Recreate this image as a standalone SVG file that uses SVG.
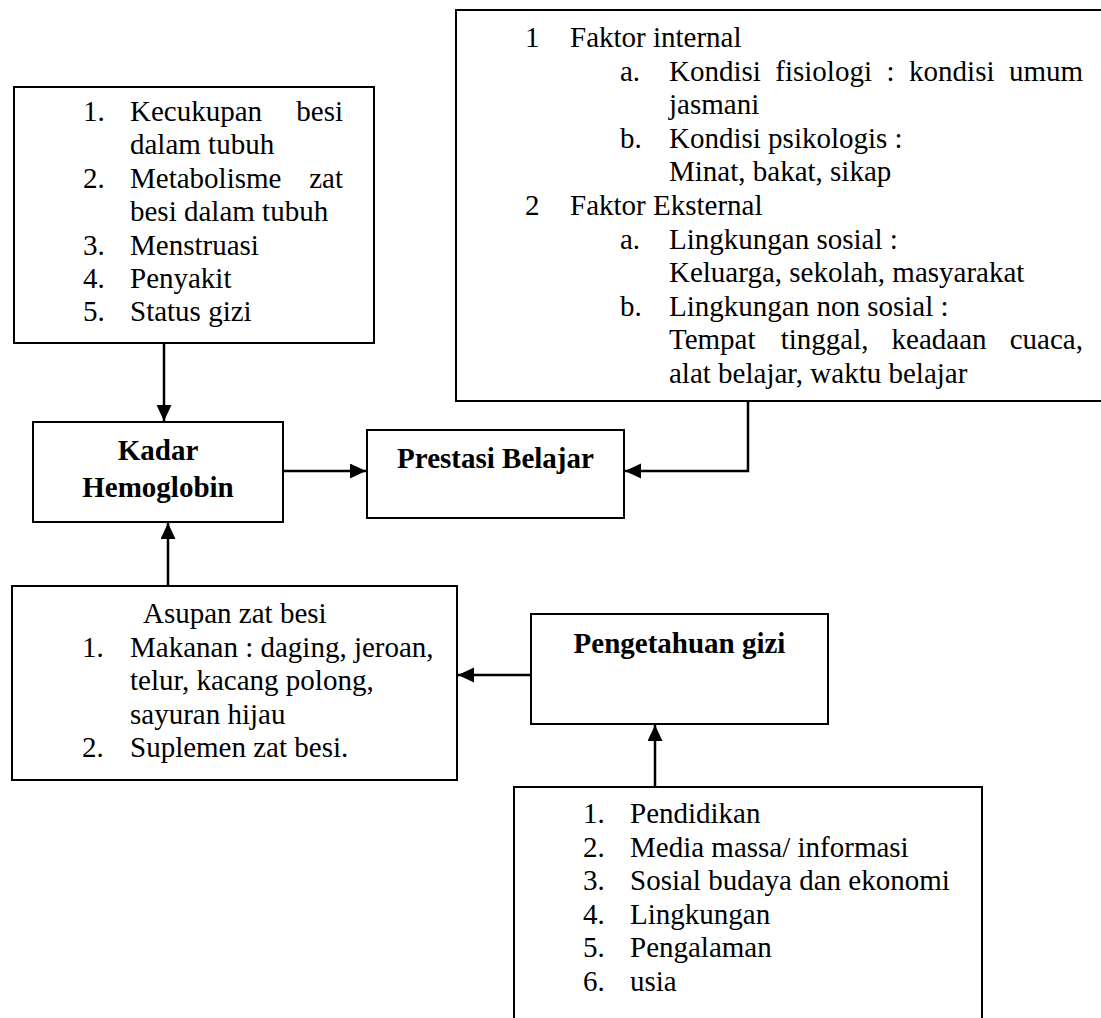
<svg xmlns="http://www.w3.org/2000/svg" width="1101" height="1018" viewBox="0 0 1101 1018">
<style>
.box{fill:#fff;stroke:#000;stroke-width:2}
.t{font-family:"Liberation Serif","Times New Roman",serif;font-size:29px;fill:#000}
.b{font-family:"Liberation Serif","Times New Roman",serif;font-size:29px;font-weight:bold;fill:#000}
.c{fill:none;stroke:#000;stroke-width:2.5}
</style>
<defs>
<marker id="ah" markerUnits="userSpaceOnUse" markerWidth="18" markerHeight="16" refX="16" refY="7.5" orient="auto">
<path d="M0,0 L16,7.5 L0,15 Z" fill="#000"/>
</marker>
</defs>
<rect width="1101" height="1018" fill="#fff"/>

<g id="node-faktor-hb">
<rect class="box" x="14" y="87" width="360" height="256"/>
<text class="t" x="83" y="121">1.</text>
<text class="t" x="130" y="121">Kecukupan</text>
<text class="t" x="343" y="121" text-anchor="end">besi</text>
<text class="t" x="130" y="154.4">dalam tubuh</text>
<text class="t" x="83" y="187.8">2.</text>
<text class="t" x="130" y="187.8">Metabolisme</text>
<text class="t" x="343" y="187.8" text-anchor="end">zat</text>
<text class="t" x="130" y="221.2">besi dalam tubuh</text>
<text class="t" x="83" y="254.6">3.</text>
<text class="t" x="130" y="254.6">Menstruasi</text>
<text class="t" x="83" y="288">4.</text>
<text class="t" x="130" y="288">Penyakit</text>
<text class="t" x="83" y="321.4">5.</text>
<text class="t" x="130" y="321.4">Status gizi</text>
</g>

<g id="node-faktor-prestasi">
<rect class="box" x="456" y="10" width="660" height="391"/>
<text class="t" x="525" y="47">1</text>
<text class="t" x="570" y="47">Faktor internal</text>
<text class="t" x="620" y="80.6">a.</text>
<text class="t" x="669" y="80.6">Kondisi</text>
<text class="t" x="775.3" y="80.6">fisiologi</text>
<text class="t" x="886.5" y="80.6">:</text>
<text class="t" x="909.1" y="80.6">kondisi</text>
<text class="t" x="1083" y="80.6" text-anchor="end">umum</text>
<text class="t" x="669" y="114.2">jasmani</text>
<text class="t" x="620" y="147.8">b.</text>
<text class="t" x="669" y="147.8">Kondisi psikologis :</text>
<text class="t" x="669" y="181.4">Minat, bakat, sikap</text>
<text class="t" x="525" y="215">2</text>
<text class="t" x="570" y="215">Faktor Eksternal</text>
<text class="t" x="620" y="248.6">a.</text>
<text class="t" x="669" y="248.6">Lingkungan sosial :</text>
<text class="t" x="669" y="282.2">Keluarga, sekolah, masyarakat</text>
<text class="t" x="620" y="315.8">b.</text>
<text class="t" x="669" y="315.8">Lingkungan non sosial :</text>
<text class="t" x="669" y="349.4">Tempat</text>
<text class="t" x="780.7" y="349.4">tinggal,</text>
<text class="t" x="891.6" y="349.4">keadaan</text>
<text class="t" x="1083" y="349.4" text-anchor="end">cuaca,</text>
<text class="t" x="669" y="383">alat belajar, waktu belajar</text>
</g>

<g id="node-kadar">
<rect class="box" x="33" y="422" width="250" height="100"/>
<text class="b" x="158" y="460" text-anchor="middle">Kadar</text>
<text class="b" x="158" y="497" text-anchor="middle">Hemoglobin</text>
</g>

<g id="node-prestasi">
<rect class="box" x="367" y="430" width="257" height="88"/>
<text class="b" x="495.5" y="468" text-anchor="middle">Prestasi Belajar</text>
</g>

<g id="node-asupan">
<rect class="box" x="12" y="586" width="445" height="194"/>
<text class="t" x="143" y="623">Asupan zat besi</text>
<text class="t" x="82" y="656.5">1.</text>
<text class="t" x="130" y="656.5">Makanan : daging, jeroan,</text>
<text class="t" x="130" y="690">telur, kacang polong,</text>
<text class="t" x="130" y="723.5">sayuran hijau</text>
<text class="t" x="82" y="757">2.</text>
<text class="t" x="130" y="757">Suplemen zat besi.</text>
</g>

<g id="node-pengetahuan">
<rect class="box" x="531" y="614" width="297" height="110"/>
<text class="b" x="679.5" y="653" text-anchor="middle">Pengetahuan gizi</text>
</g>

<g id="node-faktor-pengetahuan">
<rect class="box" x="514" y="787" width="468" height="250"/>
<text class="t" x="583" y="823">1.</text>
<text class="t" x="630" y="823">Pendidikan</text>
<text class="t" x="583" y="856.5">2.</text>
<text class="t" x="630" y="856.5">Media massa/ informasi</text>
<text class="t" x="583" y="890">3.</text>
<text class="t" x="630" y="890">Sosial budaya dan ekonomi</text>
<text class="t" x="583" y="923.5">4.</text>
<text class="t" x="630" y="923.5">Lingkungan</text>
<text class="t" x="583" y="957">5.</text>
<text class="t" x="630" y="957">Pengalaman</text>
<text class="t" x="583" y="990.5">6.</text>
<text class="t" x="630" y="990.5">usia</text>
</g>

<g id="connectors">
<line class="c" x1="164" y1="343" x2="164" y2="421" marker-end="url(#ah)"/>
<line class="c" x1="168" y1="586" x2="168" y2="523" marker-end="url(#ah)"/>
<line class="c" x1="283" y1="471" x2="366" y2="471" marker-end="url(#ah)"/>
<polyline class="c" points="748,401 748,471 625,471" marker-end="url(#ah)"/>
<line class="c" x1="531" y1="675" x2="458" y2="675" marker-end="url(#ah)"/>
<line class="c" x1="655" y1="787" x2="655" y2="725" marker-end="url(#ah)"/>
</g>
</svg>
